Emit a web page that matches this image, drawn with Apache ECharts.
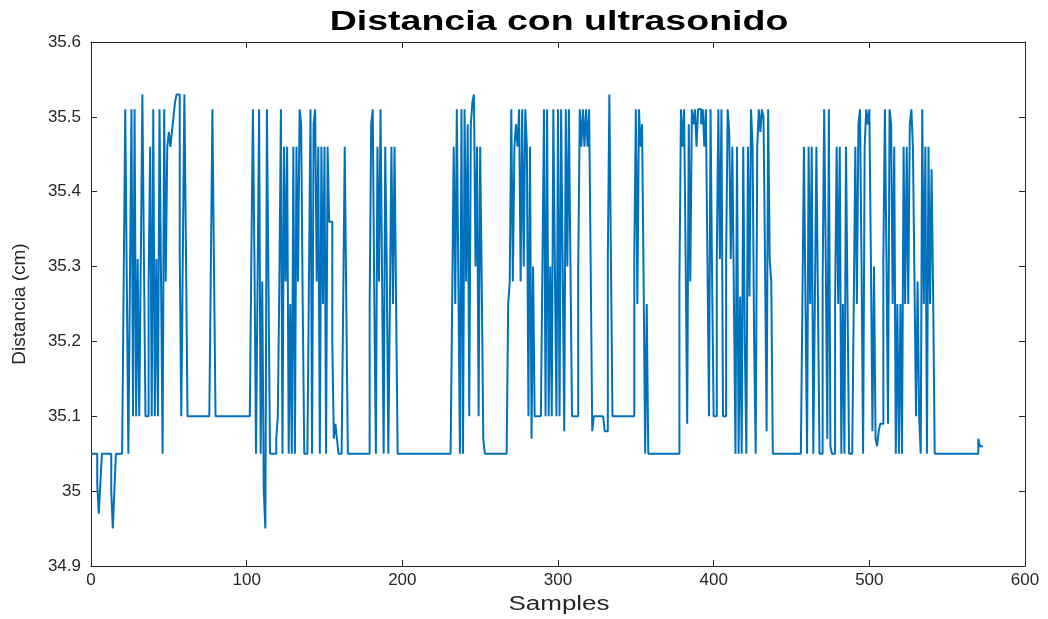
<!DOCTYPE html>
<html><head><meta charset="utf-8">
<script src="https://cdn.jsdelivr.net/npm/echarts@6/dist/echarts.min.js"></script>
<style>html,body{margin:0;padding:0;background:#fff}#c{width:1048px;height:619px}</style>
</head><body><div id="c"></div>
<script>
const titleText = 'Distancia con ultrasonido';
const xName = 'Samples';
const yName = 'Distancia (cm)';
const xTicks = [0, 100, 200, 300, 400, 500, 600];
const yTicks = [34.9, 35, 35.1, 35.2, 35.3, 35.4, 35.5, 35.6];

const samples000 = [
35.05,35.05,35.05,35.05,35.01,34.97,35.01,35.05,35.05,35.05,
35.05,35.05,35.05,35.0,34.95,35.0,35.05,35.05,35.05,35.05,
35.05,35.28,35.51,35.28,35.05,35.28,35.51,35.1,35.51,35.1,
35.31,35.1,35.31,35.53,35.31,35.1,35.1,35.28,35.46,35.1,
35.51,35.1,35.31,35.1,35.51,35.28,35.05,35.51,35.28,35.46,
35.48,35.46,35.48,35.5,35.52,35.53,35.53,35.32,35.1,35.32,
35.53,35.32,35.1,35.1,35.1,35.1,35.1,35.1,35.1,35.1,
35.1,35.1,35.1,35.1,35.1,35.1,35.1,35.3,35.51,35.3,
35.1,35.1,35.1,35.1,35.1,35.1,35.1,35.1,35.1,35.1,
35.1,35.1,35.1,35.1,35.1,35.1,35.1,35.1,35.1,35.1];
const samples100 = [
35.1,35.1,35.1,35.31,35.51,35.31,35.05,35.28,35.51,35.05,
35.28,35.0,34.95,35.51,35.28,35.05,35.05,35.05,35.05,35.07,
35.1,35.28,35.51,35.05,35.46,35.28,35.46,35.05,35.25,35.05,
35.46,35.05,35.46,35.28,35.51,35.49,35.25,35.05,35.05,35.05,
35.28,35.51,35.05,35.49,35.51,35.28,35.46,35.05,35.46,35.25,
35.46,35.05,35.46,35.36,35.36,35.2,35.07,35.09,35.07,35.05,
35.05,35.05,35.25,35.46,35.25,35.05,35.05,35.05,35.05,35.05,
35.05,35.05,35.05,35.05,35.05,35.05,35.05,35.05,35.05,35.25,
35.49,35.51,35.25,35.05,35.46,35.28,35.51,35.28,35.05,35.46,
35.3,35.05,35.25,35.46,35.25,35.46,35.25,35.05,35.05,35.05];
const samples200 = [
35.05,35.05,35.05,35.05,35.05,35.05,35.05,35.05,35.05,35.05,
35.05,35.05,35.05,35.05,35.05,35.05,35.05,35.05,35.05,35.05,
35.05,35.05,35.05,35.05,35.05,35.05,35.05,35.05,35.05,35.05,
35.05,35.05,35.25,35.46,35.25,35.51,35.28,35.05,35.51,35.05,
35.51,35.28,35.49,35.1,35.49,35.52,35.53,35.3,35.46,35.1,
35.46,35.28,35.07,35.05,35.05,35.05,35.05,35.05,35.05,35.05,
35.05,35.05,35.05,35.05,35.05,35.05,35.05,35.05,35.25,35.28,
35.51,35.28,35.46,35.49,35.46,35.51,35.28,35.51,35.3,35.51,
35.46,35.1,35.46,35.07,35.3,35.1,35.1,35.1,35.1,35.1,
35.3,35.51,35.1,35.51,35.1,35.3,35.1,35.51,35.3,35.1];
const samples300 = [
35.51,35.1,35.51,35.3,35.08,35.51,35.3,35.51,35.3,35.1,
35.1,35.1,35.1,35.3,35.51,35.46,35.51,35.46,35.51,35.46,
35.51,35.3,35.08,35.1,35.1,35.1,35.1,35.1,35.1,35.1,
35.08,35.08,35.31,35.53,35.31,35.1,35.1,35.1,35.1,35.1,
35.1,35.1,35.1,35.1,35.1,35.1,35.1,35.1,35.1,35.31,
35.51,35.25,35.51,35.46,35.49,35.28,35.05,35.25,35.05,35.05,
35.05,35.05,35.05,35.05,35.05,35.05,35.05,35.05,35.05,35.05,
35.05,35.05,35.05,35.05,35.05,35.05,35.05,35.05,35.28,35.51,
35.46,35.51,35.31,35.09,35.49,35.28,35.51,35.49,35.51,35.46,
35.51,35.51,35.49,35.51,35.46,35.51,35.31,35.1,35.51,35.28];
const samples400 = [
35.1,35.1,35.31,35.51,35.31,35.51,35.1,35.1,35.31,35.51,
35.48,35.31,35.46,35.26,35.05,35.46,35.05,35.26,35.05,35.46,
35.2,35.05,35.46,35.26,35.51,35.46,35.2,35.05,35.46,35.51,
35.48,35.51,35.5,35.31,35.08,35.51,35.31,35.28,35.05,35.05,
35.05,35.05,35.05,35.05,35.05,35.05,35.05,35.05,35.05,35.05,
35.05,35.05,35.05,35.05,35.05,35.05,35.05,35.25,35.46,35.25,
35.05,35.46,35.25,35.46,35.05,35.25,35.46,35.25,35.05,35.05,
35.28,35.51,35.31,35.07,35.51,35.06,35.05,35.05,35.25,35.46,
35.25,35.46,35.05,35.25,35.05,35.46,35.25,35.05,35.05,35.05,
35.25,35.46,35.25,35.49,35.51,35.3,35.05,35.46,35.51,35.49];
const samples500 = [
35.51,35.31,35.08,35.3,35.07,35.06,35.08,35.09,35.09,35.31,
35.51,35.31,35.09,35.51,35.49,35.25,35.46,35.05,35.25,35.05,
35.25,35.05,35.46,35.25,35.46,35.25,35.49,35.51,35.46,35.28,
35.1,35.28,35.1,35.05,35.51,35.25,35.46,35.05,35.46,35.25,
35.43,35.26,35.05,35.05,35.05,35.05,35.05,35.05,35.05,35.05,
35.05,35.05,35.05,35.05,35.05,35.05,35.05,35.05,35.05,35.05,
35.05,35.05,35.05,35.05,35.05,35.05,35.05,35.05,35.05,35.05,
35.07,35.06,35.06];

const values = [].concat(samples000, samples100, samples200, samples300, samples400, samples500);
// stairs: each sample held from index i to i+1
const seriesData = [];
values.forEach((v, i) => { seriesData.push([i, v]); seriesData.push([i + 1, v]); });

const axisColor = '#262626';
const labelFont = 'Liberation Sans, Arial, sans-serif';
const chart = echarts.init(document.getElementById('c'), null, {renderer: 'canvas'});
const xCommon = {type: 'value', min: xTicks[0], max: xTicks[xTicks.length - 1], interval: 100,
  axisLine: {show: true, lineStyle: {color: axisColor, width: 1}},
  axisTick: {show: true, inside: true, length: 6, lineStyle: {color: axisColor}},
  splitLine: {show: false}};
const yCommon = {type: 'value', min: yTicks[0], max: yTicks[yTicks.length - 1], interval: 0.1,
  axisLine: {show: true, onZero: false, lineStyle: {color: axisColor, width: 1}},
  axisTick: {show: true, inside: true, length: 6, lineStyle: {color: axisColor}},
  splitLine: {show: false}};
chart.setOption({
  animation: false,
  backgroundColor: '#ffffff',
  grid: {left: 91, right: 23, top: 42, bottom: 53, containLabel: false},
  graphic: [
    {type: 'text', x: 559, y: 8, scaleX: 1.34, z: 10,
      style: {text: titleText, fill: '#000', textAlign: 'center', textVerticalAlign: 'top',
        font: 'bold 28px Liberation Sans, Arial, sans-serif'}},
    {type: 'text', x: 559, y: 594, scaleX: 1.3, z: 10,
      style: {text: xName, fill: axisColor, textAlign: 'center', textVerticalAlign: 'top',
        font: '20px Liberation Sans, Arial, sans-serif'}}
  ],
  xAxis: [
    Object.assign({}, xCommon, {position: 'bottom',
      axisLabel: {show: true, margin: 6, fontFamily: labelFont, fontSize: 17, color: axisColor}}),
    Object.assign({}, xCommon, {position: 'top', axisLabel: {show: false}})
  ],
  yAxis: [
    Object.assign({}, yCommon, {position: 'left', name: yName, nameLocation: 'middle', nameGap: 62,
      nameRotate: 90,
      nameTextStyle: {fontFamily: labelFont, fontSize: 19, color: axisColor},
      axisLabel: {show: true, margin: 10, fontFamily: labelFont, fontSize: 17, color: axisColor,
        formatter: v => String(Number(v.toFixed(1)))}}),
    Object.assign({}, yCommon, {position: 'right', axisLabel: {show: false}})
  ],
  series: [{
    type: 'line', data: seriesData, showSymbol: false, symbol: 'none',
    lineStyle: {color: '#0072BD', width: 2}, xAxisIndex: 0, yAxisIndex: 0
  }]
});
</script></body></html>
